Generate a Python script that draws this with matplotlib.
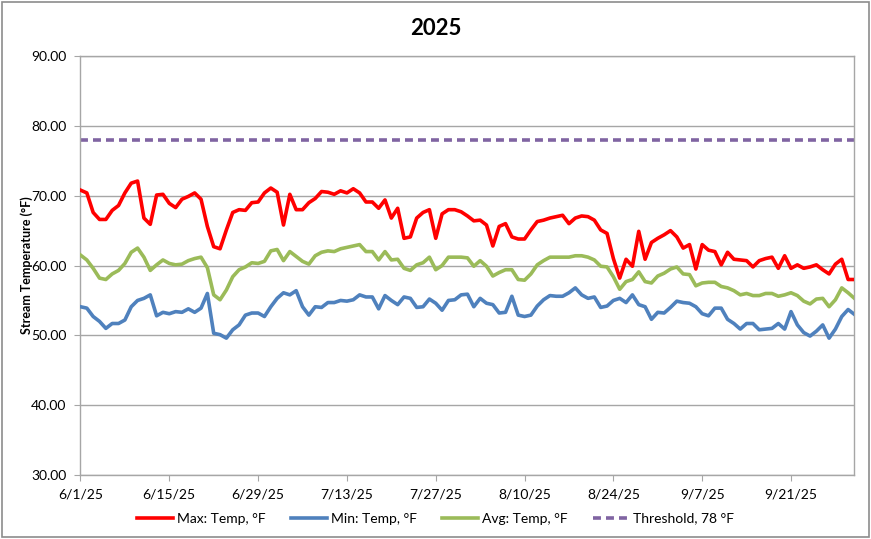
import matplotlib
matplotlib.use("Agg")
import matplotlib.pyplot as plt
import matplotlib.dates as mdates
import pandas as pd
from matplotlib.patches import Rectangle

start_date = "2025-06-01"
end_date = "2025-10-01"

max_temp = [
    70.8, 70.4, 67.6, 66.6, 66.6, 67.9, 68.6, 70.4, 71.8, 72.1,
    66.8, 65.9, 70.1, 70.2, 68.9, 68.3, 69.5, 69.9, 70.4, 69.5,
    65.6, 62.7, 62.4, 65.1, 67.6, 68.0, 67.9, 69.0, 69.1, 70.4,
    71.1, 70.5, 65.8, 70.2, 68.0, 68.0, 69.0, 69.6, 70.6, 70.5,
    70.2, 70.7, 70.4, 71.0, 70.4, 69.1, 69.1, 68.2, 69.4, 66.8,
    68.2, 63.9, 64.1, 66.8, 67.6, 68.0, 63.9, 67.4, 68.0, 68.0,
    67.7, 67.1, 66.4, 66.5, 65.8, 62.8, 65.6, 66.0, 64.1, 63.8,
    63.8, 65.1, 66.3, 66.5, 66.8, 67.0, 67.2, 66.0, 66.8, 67.1,
    67.0, 66.5, 65.1, 64.6, 61.0, 58.2, 60.9, 59.9, 64.9, 60.9,
    63.3, 63.9, 64.4, 65.0, 64.1, 62.5, 63.0, 59.5, 63.0, 62.2,
    62.0, 60.1, 61.9, 60.9, 60.8, 60.7, 59.8, 60.7, 61.0, 61.2,
    59.6, 61.4, 59.6, 60.1, 59.6, 59.8, 60.1, 59.4, 58.8, 60.2,
    60.9, 58.0, 58.0,
]

min_temp = [
    54.1, 53.9, 52.7, 52.0, 51.0, 51.7, 51.7, 52.2, 54.1, 55.0,
    55.3, 55.8, 52.8, 53.3, 53.1, 53.4, 53.3, 53.8, 53.3, 53.9,
    56.0, 50.3, 50.1, 49.6, 50.8, 51.5, 52.9, 53.2, 53.2, 52.7,
    54.1, 55.3, 56.1, 55.8, 56.4, 54.1, 52.9, 54.1, 54.0, 54.7,
    54.7, 55.0, 54.9, 55.1, 55.8, 55.5, 55.5, 53.8, 55.7, 55.0,
    54.4, 55.5, 55.3, 54.0, 54.1, 55.2, 54.6, 53.6, 55.0, 55.1,
    55.8, 55.9, 54.1, 55.3, 54.6, 54.4, 53.2, 53.3, 55.6, 52.9,
    52.7, 52.9, 54.2, 55.1, 55.7, 55.6, 55.6, 56.1, 56.8, 55.8,
    55.3, 55.5, 54.0, 54.2, 55.0, 55.3, 54.7, 55.8, 54.4, 54.1,
    52.3, 53.3, 53.2, 54.0, 54.9, 54.7, 54.6, 54.1, 53.1, 52.8,
    53.9, 53.9, 52.3, 51.7, 50.9, 51.7, 51.7, 50.8, 50.9, 51.0,
    51.7, 50.9, 53.4, 51.5, 50.4, 49.9, 50.6, 51.5, 49.6, 50.9,
    52.7, 53.7, 53.0,
]

avg_temp = [
    61.5, 60.8, 59.6, 58.2, 58.0, 58.8, 59.3, 60.3, 61.9, 62.5,
    61.2, 59.3, 60.1, 60.8, 60.3, 60.1, 60.2, 60.7, 61.0, 61.2,
    59.7, 55.8, 55.1, 56.5, 58.4, 59.4, 59.8, 60.4, 60.3, 60.6,
    62.1, 62.3, 60.7, 62.0, 61.3, 60.6, 60.2, 61.4, 61.9, 62.1,
    62.0, 62.4, 62.6, 62.8, 63.0, 62.0, 62.0, 60.8, 62.0, 60.8,
    60.9, 59.6, 59.3, 60.1, 60.4, 61.2, 59.4, 60.0, 61.2, 61.2,
    61.2, 61.1, 59.9, 60.7, 59.9, 58.5, 59.0, 59.4, 59.4, 58.0,
    57.9, 58.8, 60.1, 60.7, 61.2, 61.2, 61.2, 61.2, 61.4, 61.4,
    61.2, 60.8, 59.9, 59.8, 58.4, 56.6, 57.7, 58.0, 59.1, 57.7,
    57.5, 58.5, 58.9, 59.5, 59.8, 58.8, 58.7, 57.1, 57.5, 57.6,
    57.6, 57.0, 56.8, 56.4, 55.8, 56.0, 55.7, 55.7, 56.0, 56.0,
    55.6, 55.8, 56.1, 55.7, 54.9, 54.5, 55.2, 55.3, 54.1, 55.1,
    56.8, 56.1, 55.3,
]

threshold = 78.0
y_ticks = [30, 40, 50, 60, 70, 80, 90]
x_tick_dates = ["2025-06-01", "2025-06-15", "2025-06-29", "2025-07-13", "2025-07-27",
                "2025-08-10", "2025-08-24", "2025-09-07", "2025-09-21"]

dates = pd.date_range(start_date, periods=len(max_temp), freq="D")

plt.rcParams['font.family'] = ['Lato', 'DejaVu Sans']

fig = plt.figure(figsize=(8.71, 5.39), dpi=100)
ax = fig.add_axes([0.0924, 0.1187, 0.8886, 0.7773])

grid_c = "#A6A6A6"
for y in y_ticks:
    ax.axhline(y, color=grid_c, lw=1.0, zorder=1)

l1, = ax.plot(dates, max_temp, color="#FF0000", lw=2.6, label="Max: Temp, °F", zorder=3,
              solid_joinstyle="round")
l2, = ax.plot(dates, min_temp, color="#4F81BD", lw=2.6, label="Min: Temp, °F", zorder=3,
              solid_joinstyle="round")
l3, = ax.plot(dates, avg_temp, color="#9BBB59", lw=2.6, label="Avg: Temp, °F", zorder=3,
              solid_joinstyle="round")
l4 = ax.axhline(threshold, color="#8064A2", lw=2.6, ls=(0, (2.2, 1.4)),
                label="Threshold, 78 °F", zorder=2)

ax.set_xlim(pd.Timestamp(start_date), pd.Timestamp(end_date))
ax.set_ylim(30, 90)
ax.set_yticks(y_ticks)
ax.set_yticklabels([f"{v:.2f}" for v in y_ticks], fontsize=10)
xt = pd.to_datetime(x_tick_dates)
ax.set_xticks(xt)
ax.set_xticklabels([f"{d.month}/{d.day}/{d.strftime('%y')}" for d in xt], fontsize=10)
ax.tick_params(axis="both", direction="out", length=4, color=grid_c, pad=6)

for s in ax.spines.values():
    s.set_color(grid_c)
    s.set_linewidth(1.0)

ax.set_ylabel("Stream Temperature (°F)", fontsize=9, fontweight="bold", labelpad=-1)
fig.text(0.5, 0.948, "2025", ha="center", va="center", fontsize=16, fontweight="bold")

fig.legend(handles=[l1, l2, l3, l4], loc="center", bbox_to_anchor=(0.5, 0.038), ncol=4,
           frameon=False, fontsize=10, handlelength=2.6, columnspacing=1.8, handletextpad=0.3)

fig.patches.append(Rectangle((0.002, 0.003), 0.996, 0.994, transform=fig.transFigure,
                             fill=False, edgecolor="#8C8C8C", lw=1.2))

fig.savefig("out.png", dpi=100)
